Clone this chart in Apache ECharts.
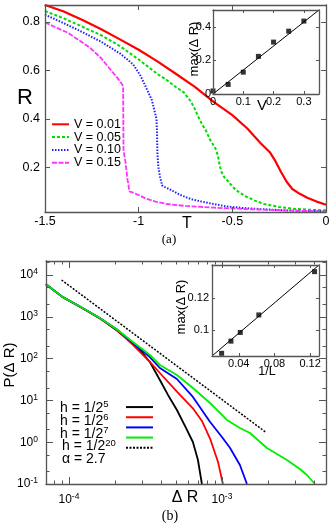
<!DOCTYPE html>
<html><head><meta charset="utf-8">
<script src="https://cdn.jsdelivr.net/npm/echarts@6/dist/echarts.min.js"></script>
<style>html,body{margin:0;padding:0;background:#fff}#c{width:332px;height:523px}</style>
</head><body><div id="c"></div>
<script>
// ---------- Panel (a): R vs T ----------
const tV001 = [-1.5,-1.4,-1.3,-1.2,-1.1,-1.0,-0.9,-0.8,-0.7,-0.6,-0.5,-0.42,-0.35,-0.3,-0.27,-0.24,-0.21,-0.18,-0.14,-0.1,-0.05,0];
const rV001 = [0.87,0.843,0.808,0.77,0.728,0.685,0.637,0.585,0.532,0.47,0.415,0.36,0.3,0.262,0.225,0.18,0.14,0.11,0.09,0.074,0.058,0.045];
const tV005 = [-1.5,-1.4,-1.3,-1.2,-1.1,-1.0,-0.9,-0.85,-0.8,-0.76,-0.72,-0.7,-0.68,-0.66,-0.64,-0.62,-0.6,-0.585,-0.575,-0.565,-0.555,-0.54,-0.52,-0.5,-0.47,-0.43,-0.38,-0.33,-0.25,-0.17,-0.08,0];
const rV005 = [0.845,0.815,0.78,0.745,0.7,0.645,0.585,0.56,0.53,0.51,0.47,0.44,0.405,0.375,0.35,0.315,0.29,0.27,0.24,0.2,0.175,0.155,0.14,0.12,0.1,0.08,0.062,0.048,0.036,0.028,0.024,0.022];
const tV010 = [-1.5,-1.4,-1.3,-1.2,-1.1,-1.03,-0.99,-0.955,-0.93,-0.913,-0.905,-0.902,-0.9,-0.895,-0.886,-0.875,-0.86,-0.83,-0.78,-0.72,-0.67,-0.6,-0.53,-0.45,-0.35,-0.2,0];
const rV010 = [0.83,0.795,0.758,0.718,0.67,0.625,0.578,0.52,0.478,0.425,0.40,0.343,0.26,0.2,0.161,0.125,0.118,0.107,0.086,0.068,0.059,0.048,0.038,0.032,0.027,0.021,0.017];
const tV015 = [-1.5,-1.45,-1.38,-1.32,-1.26,-1.2,-1.16,-1.12,-1.1,-1.083,-1.081,-1.072,-1.07,-1.063,-1.06,-1.055,-1.05,-1.03,-1.0,-0.96,-0.91,-0.85,-0.75,-0.6,-0.4,-0.2,0];
const rV015 = [0.798,0.78,0.756,0.725,0.694,0.65,0.612,0.575,0.555,0.535,0.27,0.265,0.22,0.215,0.15,0.13,0.1,0.095,0.085,0.07,0.058,0.048,0.04,0.033,0.026,0.021,0.017];
const aLegend = ['V = 0.01','V = 0.05','V = 0.10','V = 0.15'];
const aYTicks = [0.2,0.4,0.6,0.8];
// inset (a)
const insAV = [0,0.05,0.1,0.15,0.2,0.25,0.3];
const insAMax = [0.018,0.057,0.13,0.224,0.309,0.374,0.434];
const insAFitV = [0,0.35];
const insAFitMax = [0,0.5];
const insAXTicks = [0,0.1,0.2,0.3];
const insAYTicks = [0,0.2,0.4];

// ---------- Panel (b): P(dR) vs dR ----------
const dR_h5  = [7.08e-5,9.0e-5,1.18e-4,1.59e-4,2.06e-4,2.5e-4,2.91e-4,3.38e-4,3.93e-4,4.44e-4,5.08e-4,5.82e-4,6.46e-4,6.97e-4,7.4e-4];
const P_h5   = [5990,3030,1745,920,470,264,161,83,30.8,13.5,5.89,2.19,1.01,0.375,0.1];
const dR_h6  = [7.08e-5,9.0e-5,1.18e-4,1.59e-4,2.06e-4,2.62e-4,3.38e-4,3.93e-4,5.08e-4,6.46e-4,7.4e-4,8.35e-4,9.42e-4,1.015e-3];
const P_h6   = [5990,3030,1745,920,483,212,83,45.2,16.2,6.47,3.22,1.24,0.342,0.1];
const dR_h7  = [7.08e-5,9.0e-5,1.18e-4,1.59e-4,2.06e-4,2.62e-4,3.38e-4,3.93e-4,5.08e-4,6.46e-4,8.35e-4,1.0e-3,1.128e-3,1.311e-3,1.457e-3];
const P_h7   = [5990,3030,1764,936,497,236,109,59.6,32.5,12.1,3.09,1.33,0.739,0.285,0.1];
const dR_h20 = [7.08e-5,9.0e-5,1.18e-4,1.59e-4,2.06e-4,2.62e-4,3.38e-4,3.93e-4,5.08e-4,6.46e-4,8.35e-4,1.078e-3,1.311e-3,1.524e-3,1.968e-3,2.66e-3,3.234e-3,3.593e-3,4.053e-3];
const P_h20  = [5990,3030,1764,936,497,250,122,70.3,40.5,19.8,8.67,3.4,2.19,1.66,0.727,0.375,0.228,0.164,0.1];
const dR_alpha = [8.95e-5,1.94e-3];
const P_alpha  = [7590,1.72];
const bLegend = ['h = 1/2^5','h = 1/2^6','h = 1/2^7','h = 1/2^20','α = 2.7'];
const bLegendRich = ['{t|h = 1/2}{s|5}','{t|h = 1/2}{s|6}','{t|h = 1/2}{s|7}','{t|h = 1/2}{s|20}','{t|α = 2.7}'];
const bXMajor = [1e-4,1e-3];
const bXMinor = [8e-5,9e-5,2e-4,3e-4,4e-4,5e-4,6e-4,7e-4,8e-4,9e-4,2e-3,3e-3,4e-3];
const bYMajor = [0.1,1,10,100,1000,10000];
const bYMinor = [0.2,0.5,2,5,20,50,200,500,2000,5000,20000];
// inset (b)
const insBInvL = [0.0208,0.03125,0.0417,0.0625,0.125];
const insBMax  = [0.0851,0.0928,0.0983,0.1094,0.1368];
const insBFitX = [0.01,0.13];
const insBFitY = [0.0834,0.141];
const insBXTicks = [0.04,0.08,0.12];
const insBYTicks = [0.1,0.12];

// ---------- helpers ----------
const zip = (xs, ys) => xs.map((x, i) => [x, ys[i]]);
const FONT = '"Liberation Sans", Arial, sans-serif';
const AXC = '#555';
const powRich = {
  b: {fontSize: 12, lineHeight: 15, fontFamily: FONT, color: '#000'},
  s: {fontSize: 8.5, lineHeight: 8, verticalAlign: 'top', fontFamily: FONT, color: '#000'}
};
function pow10Label(v) {
  const l = Math.log10(v), e = Math.round(l);
  if (Math.abs(l - e) > 1e-6) return '';
  return '{b|10}{s|' + e + '}';
}
function axis(o) {
  const a = {
    type: o.type || 'value',
    gridIndex: o.grid,
    position: o.pos,
    min: o.min, max: o.max,
    axisLine: {show: o.line !== false, onZero: false, lineStyle: {color: AXC, width: 1.3}},
    axisTick: {show: true, inside: true, length: o.tickLen || 5, lineStyle: {color: AXC, width: 1}},
    axisLabel: {show: !!o.labels, margin: o.margin || 4, fontSize: o.fs || 12, fontFamily: FONT, color: '#000'},
    splitLine: {show: false},
    minorTick: {show: false},
    minorSplitLine: {show: false},
    z: 5
  };
  if (o.type === 'log') a.logBase = 10;
  if (o.interval !== undefined) a.interval = o.interval;
  if (o.ticks) a.axisTick.customValues = o.ticks;
  if (Array.isArray(o.labels)) a.axisLabel.customValues = o.labels;
  if (o.fmt) a.axisLabel.formatter = o.fmt;
  if (o.rich) a.axisLabel.rich = o.rich;
  return a;
}

const xAxis = [
  axis({grid:0,pos:'bottom',min:-1.5,max:0,interval:0.5,labels:true,margin:3,fs:12.5,tickLen:5}),
  axis({grid:0,pos:'top',min:-1.5,max:0,interval:0.5,tickLen:5}),
  axis({grid:1,pos:'bottom',min:0,max:0.35,ticks:insAXTicks,labels:insAXTicks,margin:2,fs:11,tickLen:3}),
  axis({grid:1,pos:'top',min:0,max:0.35,ticks:insAXTicks,tickLen:3}),
  axis({grid:2,pos:'bottom',type:'log',min:7.08e-5,max:4.79e-3,ticks:bXMajor,labels:bXMajor,fmt:pow10Label,rich:powRich,margin:8,tickLen:7}),
  axis({grid:2,pos:'bottom',type:'log',min:7.08e-5,max:4.79e-3,ticks:bXMinor,line:false,tickLen:3.5}),
  axis({grid:2,pos:'top',type:'log',min:7.08e-5,max:4.79e-3,ticks:bXMajor,tickLen:7}),
  axis({grid:2,pos:'top',type:'log',min:7.08e-5,max:4.79e-3,ticks:bXMinor,line:false,tickLen:3.5}),
  axis({grid:3,pos:'bottom',min:0.01,max:0.13,ticks:insBXTicks,labels:insBXTicks,margin:2,fs:11,tickLen:3}),
  axis({grid:3,pos:'top',min:0.01,max:0.13,ticks:insBXTicks,tickLen:3})
];
const yAxis = [
  axis({grid:0,pos:'left',min:0.015,max:0.87,ticks:aYTicks,labels:aYTicks,margin:5,fs:12.5,tickLen:5}),
  axis({grid:0,pos:'right',min:0.015,max:0.87,ticks:aYTicks,tickLen:5}),
  axis({grid:1,pos:'left',min:0,max:0.5,ticks:insAYTicks,labels:insAYTicks,margin:2,fs:11,tickLen:3}),
  axis({grid:1,pos:'right',min:0,max:0.5,ticks:insAYTicks,tickLen:3}),
  axis({grid:2,pos:'left',type:'log',min:0.1,max:21600,ticks:bYMajor,labels:bYMajor,fmt:pow10Label,rich:powRich,margin:8,tickLen:7}),
  axis({grid:2,pos:'left',type:'log',min:0.1,max:21600,ticks:bYMinor,line:false,tickLen:3.5}),
  axis({grid:2,pos:'right',type:'log',min:0.1,max:21600,ticks:bYMajor,tickLen:7}),
  axis({grid:2,pos:'right',type:'log',min:0.1,max:21600,ticks:bYMinor,line:false,tickLen:3.5}),
  axis({grid:3,pos:'left',min:0.0834,max:0.141,ticks:insBYTicks,labels:insBYTicks,margin:3,fs:11,tickLen:3}),
  axis({grid:3,pos:'right',min:0.0834,max:0.141,ticks:insBYTicks,tickLen:3})
];

function line(name, xi, yi, data, color, width, type) {
  return {type:'line', name, xAxisIndex:xi, yAxisIndex:yi, data, symbol:'none', showSymbol:false,
          lineStyle:{color, width, type: type || 'solid'}, itemStyle:{color}, silent:true, z:3};
}

const series = [
  line('V = 0.01',0,0,zip(tV001,rV001),'#ff0000',2.2),
  line('V = 0.05',0,0,zip(tV005,rV005),'#00dd00',2,[3,2]),
  line('V = 0.10',0,0,zip(tV010,rV010),'#2222ff',2,[1.5,1.5]),
  line('V = 0.15',0,0,zip(tV015,rV015),'#ff33ff',1.8,[5,1.5]),
  line('fitA',2,2,zip(insAFitV,insAFitMax),'#000',1),
  {type:'scatter', name:'ptsA', xAxisIndex:2, yAxisIndex:2, data:zip(insAV,insAMax), symbol:'rect', symbolSize:5, itemStyle:{color:'#000'}, clip:false, z:4},
  line(bLegend[0],4,4,zip(dR_h5,P_h5),'#000000',1.8),
  line(bLegend[1],4,4,zip(dR_h6,P_h6),'#ff0000',1.8),
  line(bLegend[2],4,4,zip(dR_h7,P_h7),'#0000ff',1.8),
  line(bLegend[3],4,4,zip(dR_h20,P_h20),'#00ee00',1.8),
  line(bLegend[4],4,4,zip(dR_alpha,P_alpha),'#000000',1.5,[2,1.5]),
  line('fitB',8,8,zip(insBFitX,insBFitY),'#000',1),
  {type:'scatter', name:'ptsB', xAxisIndex:8, yAxisIndex:8, data:zip(insBInvL,insBMax), symbol:'rect', symbolSize:5, itemStyle:{color:'#000'}, clip:false, z:4}
];

function txt(text, x, y, size, opts) {
  opts = opts || {};
  return {type:'text', x, y, rotation: opts.rot || 0, z: 10,
    style:{text, fontSize:size, fontFamily: opts.serif ? '"Liberation Serif", "Times New Roman", serif' : FONT,
           fill:'#000', align: opts.align || 'center', verticalAlign:'middle', rich: opts.rich}};
}
const legRich = {
  t: {fontSize: 14, lineHeight: 17, fontFamily: FONT, color: '#000'},
  s: {fontSize: 9.5, lineHeight: 9, verticalAlign: 'top', fontFamily: FONT, color: '#000'}
};
const bRowY = [408.3, 421, 433.7, 446.4, 459];
const bRowX = [60, 60, 60, 62, 62];

const option = {
  animation:false,
  backgroundColor:'#fff',
  grid:[
    {left:45, top:5, width:281, height:207, outerBoundsMode:'none'},
    {left:213, top:10, width:106, height:84, show:true, backgroundColor:'#fff', borderWidth:0, outerBoundsMode:'none'},
    {left:46, top:261, width:280, height:223, outerBoundsMode:'none'},
    {left:212, top:265, width:107, height:91, show:true, backgroundColor:'#fff', borderWidth:0, outerBoundsMode:'none'}
  ],
  xAxis, yAxis, series,
  legend:[
    {data:aLegend, orient:'vertical', left:51, top:117.8, padding:0, itemWidth:17, itemHeight:8, itemGap:-0.2,
     selectedMode:false, itemStyle:{opacity:0},
     textStyle:{fontSize:12.5, lineHeight:12.5, fontFamily:FONT, color:'#000'}},
    {data:bLegend, orient:'vertical', left:125, top:402, padding:0, itemWidth:27, itemHeight:12.7, itemGap:0,
     selectedMode:false, itemStyle:{opacity:0},
     formatter: () => '',
     textStyle:{fontSize:10, lineHeight:10, fontFamily:FONT, color:'#000'}}
  ],
  graphic:[
    txt('R', 25, 97.5, 22),
    txt('T', 187, 223.5, 16),
    txt('(a)', 169, 240, 13, {serif:true}),
    txt('max(Δ R)', 194, 49, 13, {rot:Math.PI/2}),
    txt('V', 262, 106, 15),
    txt('P(Δ R)', 10, 365, 15, {rot:Math.PI/2}),
    txt('Δ R', 185, 498, 16),
    txt('(b)', 170, 516, 14, {serif:true}),
    txt('max(Δ R)', 181, 307, 13, {rot:Math.PI/2}),
    txt('1/L', 267, 372, 12.5)
  ].concat(bLegendRich.map((s, i) => txt(s, bRowX[i], bRowY[i], 14, {align:'left', rich:legRich})))
};
const chart = echarts.init(document.getElementById('c'), null, {renderer:'canvas'});
chart.setOption(option);
</script>
</body></html>
